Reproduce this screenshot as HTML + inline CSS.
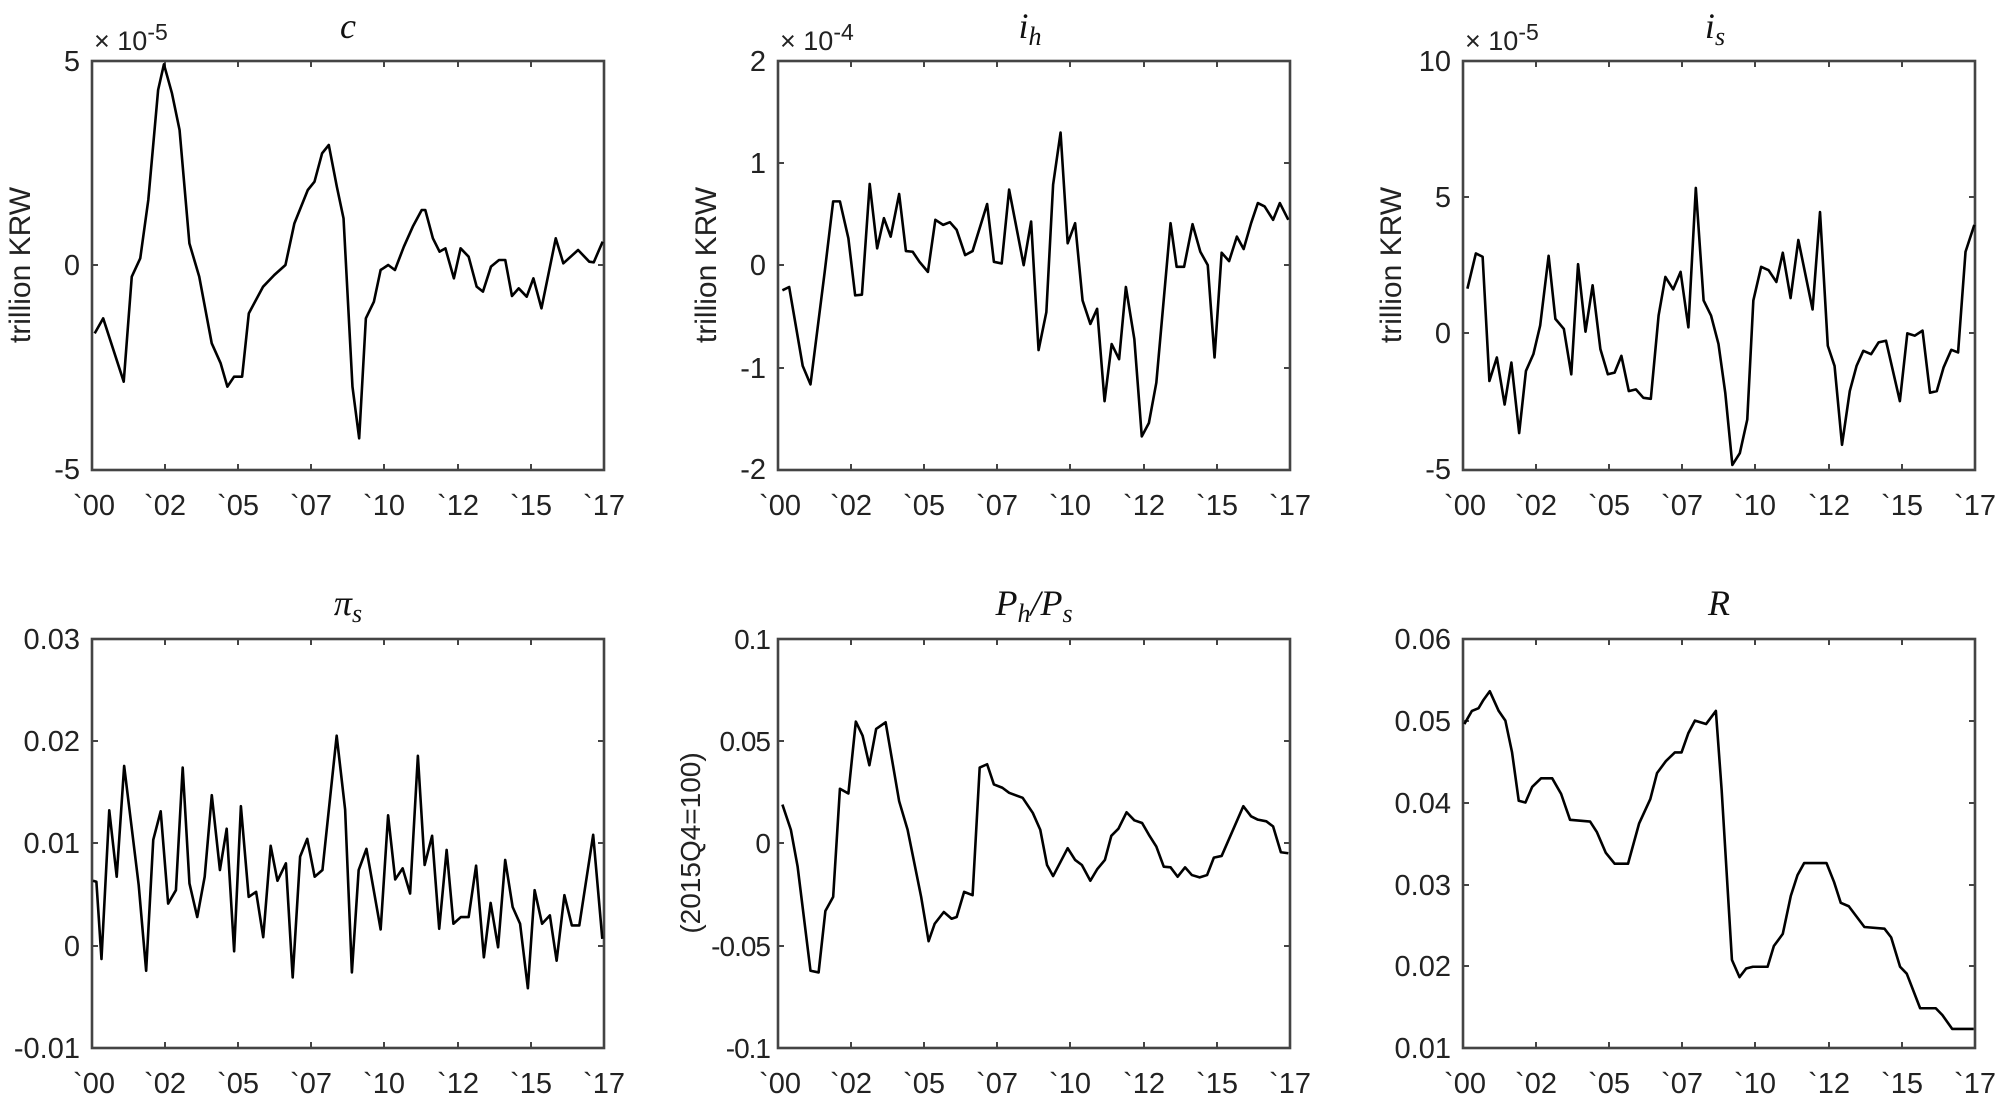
<!DOCTYPE html>
<html><head><meta charset="utf-8"><style>
html,body{margin:0;padding:0;background:#fff;}
svg{display:block;}
.t{font-family:"Liberation Sans",Arial,sans-serif;font-size:29px;fill:#222;}
.yl{font-family:"Liberation Sans",Arial,sans-serif;font-size:30px;fill:#222;}
.ti{font-family:"Liberation Serif","DejaVu Serif",serif;font-style:italic;font-size:36px;fill:#111;}
.d{fill:none;stroke:#000;stroke-width:2.6;stroke-linejoin:round;vector-effect:non-scaling-stroke;}
.box{fill:none;stroke:#444;stroke-width:2.6;}
.tk{stroke:#444;stroke-width:2;}
</style></head><body>
<svg width="2000" height="1099" viewBox="0 0 2000 1099" xmlns="http://www.w3.org/2000/svg">
<rect class="box" x="92" y="61" width="512" height="409"/>
<rect class="box" x="778" y="61" width="512" height="409"/>
<rect class="box" x="1463" y="61" width="512" height="409"/>
<rect class="box" x="92" y="639" width="512" height="409"/>
<rect class="box" x="778" y="639" width="512" height="409"/>
<rect class="box" x="1463" y="639" width="512" height="409"/>

<g class="tk">
<path d="M165 61v6M238 61v6M311 61v6M384 61v6M458 61v6M531 61v6M165 470v-6M238 470v-6M311 470v-6M384 470v-6M458 470v-6M531 470v-6"/>
<path d="M851 61v6M924 61v6M997 61v6M1070 61v6M1144 61v6M1217 61v6M851 470v-6M924 470v-6M997 470v-6M1070 470v-6M1144 470v-6M1217 470v-6"/>
<path d="M1536 61v6M1609 61v6M1682 61v6M1755 61v6M1829 61v6M1902 61v6M1536 470v-6M1609 470v-6M1682 470v-6M1755 470v-6M1829 470v-6M1902 470v-6"/>
<path d="M165 639v6M238 639v6M311 639v6M384 639v6M458 639v6M531 639v6M165 1048v-6M238 1048v-6M311 1048v-6M384 1048v-6M458 1048v-6M531 1048v-6"/>
<path d="M851 639v6M924 639v6M997 639v6M1070 639v6M1144 639v6M1217 639v6M851 1048v-6M924 1048v-6M997 1048v-6M1070 1048v-6M1144 1048v-6M1217 1048v-6"/>
<path d="M1536 639v6M1609 639v6M1682 639v6M1755 639v6M1829 639v6M1902 639v6M1536 1048v-6M1609 1048v-6M1682 1048v-6M1755 1048v-6M1829 1048v-6M1902 1048v-6"/>
<path d="M92 265h6M604 265h-6"/>
<path d="M778 163h6M778 265h6M778 368h6M1290 163h-6M1290 265h-6M1290 368h-6"/>
<path d="M1463 197h6M1463 333h6M1975 197h-6M1975 333h-6"/>
<path d="M92 741h6M92 843h6M92 946h6M604 741h-6M604 843h-6M604 946h-6"/>
<path d="M778 741h6M778 843h6M778 946h6M1290 741h-6M1290 843h-6M1290 946h-6"/>
<path d="M1463 721h6M1463 803h6M1463 885h6M1463 966h6M1975 721h-6M1975 803h-6M1975 885h-6M1975 966h-6"/>
</g>

<g class="t" text-anchor="middle">
<text x="94" y="515">`00</text><text x="165" y="515">`02</text><text x="238" y="515">`05</text><text x="311" y="515">`07</text><text x="384" y="515">`10</text><text x="458" y="515">`12</text><text x="531" y="515">`15</text><text x="604" y="515">`17</text>
<text x="780" y="515">`00</text><text x="851" y="515">`02</text><text x="924" y="515">`05</text><text x="997" y="515">`07</text><text x="1070" y="515">`10</text><text x="1144" y="515">`12</text><text x="1217" y="515">`15</text><text x="1290" y="515">`17</text>
<text x="1465" y="515">`00</text><text x="1536" y="515">`02</text><text x="1609" y="515">`05</text><text x="1682" y="515">`07</text><text x="1755" y="515">`10</text><text x="1829" y="515">`12</text><text x="1902" y="515">`15</text><text x="1975" y="515">`17</text>
<text x="94" y="1093">`00</text><text x="165" y="1093">`02</text><text x="238" y="1093">`05</text><text x="311" y="1093">`07</text><text x="384" y="1093">`10</text><text x="458" y="1093">`12</text><text x="531" y="1093">`15</text><text x="604" y="1093">`17</text>
<text x="780" y="1093">`00</text><text x="851" y="1093">`02</text><text x="924" y="1093">`05</text><text x="997" y="1093">`07</text><text x="1070" y="1093">`10</text><text x="1144" y="1093">`12</text><text x="1217" y="1093">`15</text><text x="1290" y="1093">`17</text>
<text x="1465" y="1093">`00</text><text x="1536" y="1093">`02</text><text x="1609" y="1093">`05</text><text x="1682" y="1093">`07</text><text x="1755" y="1093">`10</text><text x="1829" y="1093">`12</text><text x="1902" y="1093">`15</text><text x="1975" y="1093">`17</text>
</g>

<g class="t" text-anchor="end">
<text x="80" y="71">5</text><text x="80" y="275">0</text><text x="80" y="479">-5</text>
<text x="766" y="71">2</text><text x="766" y="173">1</text><text x="766" y="275">0</text><text x="766" y="378">-1</text><text x="766" y="479">-2</text>
<text x="1451" y="71">10</text><text x="1451" y="207">5</text><text x="1451" y="343">0</text><text x="1451" y="479">-5</text>
<text x="80" y="649">0.03</text><text x="80" y="751">0.02</text><text x="80" y="853">0.01</text><text x="80" y="956">0</text><text x="80" y="1058">-0.01</text>
<text x="1451" y="649">0.06</text><text x="1451" y="731">0.05</text><text x="1451" y="813">0.04</text><text x="1451" y="895">0.03</text><text x="1451" y="976">0.02</text><text x="1451" y="1058">0.01</text>
</g>
<g class="t" text-anchor="end" style="font-size:28px;letter-spacing:-1px">
<text x="770" y="649">0.1</text><text x="770" y="751">0.05</text><text x="770" y="853">0</text><text x="770" y="956">-0.05</text><text x="770" y="1058">-0.1</text>
</g>

<g class="t" style="font-size:27px">
<text x="94" y="50">× 10<tspan dy="-10" font-size="23">-5</tspan></text>
<text x="780" y="50">× 10<tspan dy="-10" font-size="23">-4</tspan></text>
<text x="1465" y="50">× 10<tspan dy="-10" font-size="23">-5</tspan></text>
</g>

<g class="yl" text-anchor="middle">
<text transform="translate(30,265) rotate(-90)">trillion KRW</text>
<text transform="translate(716,265) rotate(-90)">trillion KRW</text>
<text transform="translate(1401,265) rotate(-90)">trillion KRW</text>
<text transform="translate(700,843) rotate(-90)" style="font-size:28px">(2015Q4=100)</text>
</g>

<g class="ti" text-anchor="middle">
<text x="348" y="38">c</text>
<text x="1030" y="38">i<tspan dy="7" font-size="26">h</tspan></text>
<text x="1715" y="38">i<tspan dy="7" font-size="26">s</tspan></text>
<text x="348" y="615">π<tspan dy="7" font-size="26">s</tspan></text>
<text x="1034" y="615">P<tspan dy="7" font-size="26">h</tspan><tspan dy="-7">/P</tspan><tspan dy="7" font-size="26">s</tspan></text>
<text x="1719" y="615">R</text>
</g>

<svg x="92" y="61" width="512" height="409" viewBox="207 183 1146 1227" preserveAspectRatio="none" overflow="visible">
<polyline class="d" points="213,1000 232,955 278,1145 296,830 315,775 333,600 355,270 368,193 386,280 403,390 425,730 447,830 475,1030 495,1090 510,1160 525,1130 543,1130 558,940 590,860 615,825 640,795 660,670 690,570 705,545 722,460 737,435 755,560 770,655 790,1160 805,1315 820,955 838,905 853,810 870,795 885,810 905,740 925,680 945,630 953,630 970,715 985,755 998,745 1017,835 1032,745 1050,770 1068,860 1082,875 1100,800 1118,780 1132,780 1147,888 1162,865 1180,890 1195,835 1213,925 1245,715 1262,790 1295,750 1320,785 1330,787 1350,725"/>
</svg>
<svg x="778" y="61" width="512" height="409" viewBox="22 32 1513 1218" preserveAspectRatio="none" overflow="visible">
<polyline class="d" points="35,715 55,705 95,940 118,995 160,660 185,450 205,450 230,560 250,730 270,728 293,398 315,590 335,500 355,555 380,428 400,598 420,600 440,630 465,660 487,505 510,520 530,512 550,535 575,610 597,598 640,458 660,630 683,635 705,415 748,640 770,510 792,893 815,780 835,400 857,245 878,575 900,515 922,745 945,815 965,770 987,1045 1008,875 1030,920 1050,705 1075,860 1097,1150 1118,1110 1140,990 1182,515 1200,645 1222,645 1247,518 1270,600 1292,640 1312,915 1333,603 1355,628 1378,555 1398,592 1420,515 1440,455 1460,465 1485,505 1505,455 1530,505"/>
</svg>
<svg x="1463" y="61" width="512" height="409" viewBox="22 32 1513 1218" preserveAspectRatio="none" overflow="visible">
<polyline class="d" points="35,710 60,605 80,615 100,985 122,915 145,1055 165,930 188,1140 208,955 230,905 250,820 275,612 295,800 320,830 342,965 362,637 384,838 405,700 428,890 450,965 470,960 490,910 512,1015 533,1010 555,1035 577,1038 600,790 620,675 643,712 665,660 688,825 710,410 733,745 755,790 777,875 797,1020 818,1235 840,1200 862,1100 880,745 903,645 925,655 948,690 967,603 990,738 1013,565 1055,772 1077,482 1100,880 1120,940 1142,1175 1165,1015 1185,940 1205,895 1228,905 1250,870 1272,865 1313,1045 1335,843 1357,850 1380,835 1402,1020 1422,1015 1442,945 1465,892 1485,900 1507,600 1533,520"/>
</svg>
<svg x="92" y="639" width="512" height="409" viewBox="22 32 1513 1218" preserveAspectRatio="none" overflow="visible">
<polyline class="d" points="25,752 35,755 50,985 73,542 95,740 117,410 160,765 182,1020 203,630 225,545 247,820 270,780 290,415 310,760 333,860 355,740 376,497 400,720 420,597 442,962 462,530 485,800 507,785 528,920 550,648 570,752 595,700 615,1040 637,680 658,627 680,740 703,720 745,320 770,540 790,1025 810,720 833,657 875,897 897,557 918,748 940,715 962,790 985,380 1005,705 1027,618 1048,895 1070,660 1090,880 1112,860 1135,860 1157,707 1180,980 1200,818 1222,950 1243,690 1265,830 1287,880 1310,1072 1330,780 1352,880 1375,855 1395,990 1418,795 1440,885 1462,885 1503,615 1530,925"/>
</svg>
<svg x="778" y="639" width="512" height="409" viewBox="22 32 1513 1218" preserveAspectRatio="none" overflow="visible">
<polyline class="d" points="35,525 60,600 80,710 118,1020 142,1025 162,842 185,800 205,478 230,492 252,278 272,320 292,408 312,300 340,280 380,515 405,600 445,800 467,932 485,880 512,845 535,865 550,860 572,785 597,795 618,415 640,405 660,465 685,475 705,490 745,505 775,550 797,600 817,705 835,738 878,655 900,690 920,705 945,752 965,718 988,690 1007,618 1028,597 1052,548 1075,572 1098,580 1118,615 1140,650 1162,710 1182,712 1203,740 1225,712 1245,735 1268,742 1290,735 1310,683 1333,678 1397,530 1420,560 1440,570 1465,575 1485,590 1508,667 1530,670"/>
</svg>
<svg x="1463" y="639" width="512" height="409" viewBox="365 232 1148 1183" preserveAspectRatio="none" overflow="visible">
<polyline class="d" points="368,478 385,440 400,432 410,410 425,383 445,440 460,468 475,560 490,700 505,705 520,660 540,635 565,635 585,680 605,755 650,760 665,790 685,850 705,882 735,882 760,765 785,695 800,620 820,585 840,560 855,560 870,505 885,468 910,478 932,440 945,670 968,1160 985,1210 1000,1185 1015,1180 1048,1180 1062,1120 1082,1085 1100,975 1115,915 1130,880 1180,880 1197,935 1212,995 1230,1005 1265,1065 1310,1070 1325,1095 1345,1180 1360,1200 1390,1300 1425,1300 1440,1320 1462,1360 1510,1360"/>
</svg>
</svg>
</body></html>
